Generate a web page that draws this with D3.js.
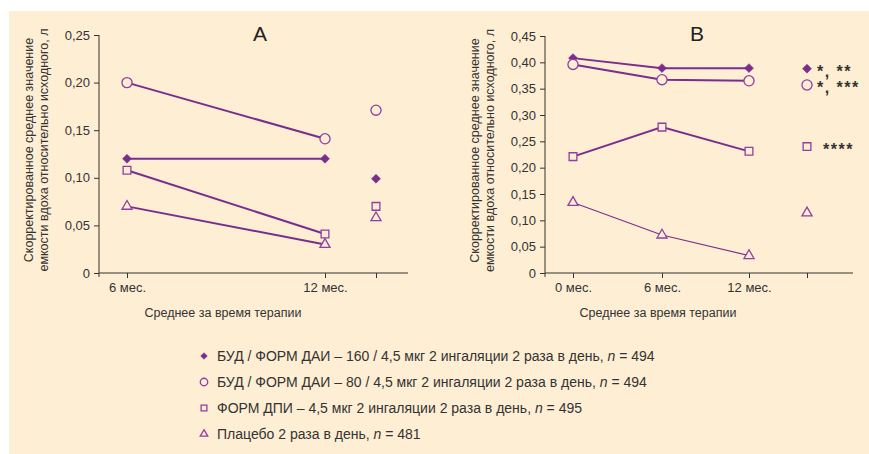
<!DOCTYPE html>
<html>
<head>
<meta charset="utf-8">
<script src="https://cdn.jsdelivr.net/npm/d3@7"></script>
<style>
  body { margin: 0; background: #fff; }
  svg { display: block; font-family: "Liberation Sans", Arial, sans-serif; }
  .axis path, .axis line { stroke: #333; }
  .axis text { fill: #333; font-size: 13px; }
</style>
</head>
<body>
<div id="chart"></div>
<script>
// Data
var groups = ["bud160", "bud80", "form", "plac"];
var legendLabels = [
  "БУД / ФОРМ ДАИ – 160 / 4,5 мкг 2 ингаляции 2 раза в день, ",
  "БУД / ФОРМ ДАИ – 80 / 4,5 мкг 2 ингаляции 2 раза в день, ",
  "ФОРМ ДПИ – 4,5 мкг 2 ингаляции 2 раза в день, ",
  "Плацебо 2 раза в день, "
];
var legendN = ["494", "494", "495", "481"];

// panel A
var timesA = ["6 мес.", "12 мес."];
var valuesA = {
  bud160: [0.12, 0.12],
  bud80: [0.20, 0.141],
  form: [0.108, 0.041],
  plac: [0.070, 0.030]
};
var meanA = { bud160: 0.099, bud80: 0.171, form: 0.070, plac: 0.058 };
var ticksA = [0, 0.05, 0.10, 0.15, 0.20, 0.25];

// panel B
var timesB = ["0 мес.", "6 мес.", "12 мес."];
var valuesB = {
  bud160: [0.408, 0.389, 0.389],
  bud80: [0.396, 0.367, 0.365],
  form: [0.221, 0.277, 0.231],
  plac: [0.134, 0.072, 0.033]
};
var meanB = { bud160: 0.388, bud80: 0.357, form: 0.240, plac: 0.114 };
var notesB = { bud160: "*, **", bud80: "*, ***", form: " ****", plac: "" };
var ticksB = [0, 0.05, 0.10, 0.15, 0.20, 0.25, 0.30, 0.35, 0.40, 0.45];

var yTitle = ["Скорректированное среднее значение", "емкости вдоха относительно исходного, л"];
var xTitle = "Среднее за время терапии";

//Styles
var bg = "#feeed4";
var purple = "#7a2d8c";
var markPurple = "#8e3f9f";
var textCol = "#333";
var comma = function(d) { return d === 0 ? "0" : d3.format(".2f")(d).replace(".", ","); };

var symbols = {
  bud160: { type: d3.symbolSquare, size: 40, fill: purple, rot: 45 },
  bud80: { type: d3.symbolCircle, size: 80, fill: bg, rot: 0 },
  form: { type: d3.symbolSquare, size: 60, fill: bg, rot: 0 },
  plac: { type: d3.symbolTriangle, size: 44, fill: bg, rot: 0 }
};

var svg = d3.select("#chart").append("svg")
    .attr("width", 869)
    .attr("height", 454);

svg.append("rect")
    .attr("x", 9).attr("y", 11)
    .attr("width", 860).attr("height", 443)
    .attr("fill", bg);

function marker(g, key, x, y, scale) {
  var s = symbols[key];
  g.append("path")
      .attr("d", d3.symbol().type(s.type).size(s.size * (scale || 1)))
      .attr("transform", "translate(" + x + "," + y + ") rotate(" + s.rot + ")")
      .attr("fill", s.fill)
      .attr("stroke", key === "bud160" ? purple : markPurple)
      .attr("stroke-width", key === "bud160" ? 0.5 : 1.3);
}

/**
  * Draws one panel
**/
function panel(opts) {
  var g = svg.append("g").attr("transform", "translate(" + opts.left + "," + opts.top + ")");
  var w = opts.width, h = opts.height;

  var y = d3.scaleLinear().domain([0, opts.ticks[opts.ticks.length - 1]]).range([h, 0]);
  var cats = opts.times.concat(["mean"]);
  var x = d3.scaleOrdinal().domain(cats).range(opts.xpos);

  //y axis
  var yAxis = g.append("g").attr("class", "axis")
      .call(d3.axisLeft(y).tickValues(opts.ticks).tickFormat(comma).tickSize(5).tickSizeOuter(0));
  yAxis.select(".domain").attr("d", "M0,0V" + (h + 4));
  yAxis.selectAll("text").attr("x", -9);

  //x axis
  var xAxis = g.append("g").attr("class", "axis")
      .attr("transform", "translate(0," + h + ")")
      .call(d3.axisBottom(x).tickSizeOuter(0).tickSize(5).tickFormat(function(d) { return d === "mean" ? "" : d; }));
  xAxis.select(".domain").attr("d", "M0,0H" + w);
  xAxis.selectAll("text").attr("y", 10).style("font-size", "13px");

  //title letter
  g.append("text")
      .attr("x", opts.letterX).attr("y", opts.letterY)
      .attr("text-anchor", "middle")
      .attr("fill", "#222")
      .style("font-size", "21px")
      .text(opts.letter);

  //axis titles
  yTitle.forEach(function(t, i) {
    g.append("text")
        .attr("transform", "translate(" + (opts.yTitleX + i * 15) + "," + (h / 2 - 4) + ") rotate(-90)")
        .attr("text-anchor", "middle")
        .attr("fill", textCol)
        .style("font-size", "12.5px")
        .text(t);
  });
  g.append("text")
      .attr("x", opts.xTitleX).attr("y", h + 44)
      .attr("text-anchor", "middle")
      .attr("fill", textCol)
      .style("font-size", "12.5px")
      .text(xTitle);

  var line = d3.line()
      .x(function(d, i) { return x(opts.times[i]); })
      .y(function(d) { return y(d); });

  groups.forEach(function(k) {
    g.append("path")
        .datum(opts.values[k])
        .attr("d", line)
        .attr("fill", "none")
        .attr("stroke", purple)
        .attr("stroke-width", (opts.thinPlac && k === "plac") ? 1.1 : 2);
  });
  groups.forEach(function(k) {
    opts.values[k].forEach(function(v, i) {
      marker(g, k, x(opts.times[i]), y(v));
    });
    marker(g, k, x("mean"), y(opts.mean[k]));
    if (opts.notes && opts.notes[k]) {
      g.append("text")
          .attr("x", x("mean") + 10).attr("y", y(opts.mean[k]) + 8)
          .attr("fill", textCol)
          .style("font-size", "16px")
          .style("font-weight", "bold")
          .style("letter-spacing", "1.5px")
          .style("white-space", "pre")
          .attr("xml:space", "preserve")
          .text(opts.notes[k]);
    }
  });
}

panel({
  left: 99, top: 35, width: 309, height: 238,
  times: timesA, values: valuesA, mean: meanA, ticks: ticksA,
  xpos: [28, 226, 277], letter: "A", letterX: 161, letterY: 6,
  yTitleX: -66, xTitleX: 124
});

panel({
  left: 545, top: 36, width: 308, height: 237,
  times: timesB, values: valuesB, mean: meanB, ticks: ticksB, notes: notesB,
  xpos: [28, 117, 204, 262], letter: "B", letterX: 152, letterY: 5,
  yTitleX: -66, xTitleX: 113, thinPlac: true
});

//legend
var leg = svg.append("g").attr("transform", "translate(204,356)");
groups.forEach(function(k, i) {
  var row = leg.append("g").attr("transform", "translate(0," + (i * 26) + ")");
  marker(row, k, 0, 0, 0.55);
  var t = row.append("text")
      .attr("x", 13).attr("y", 5)
      .attr("fill", textCol)
      .style("font-size", "14px");
  t.append("tspan").text(legendLabels[i]);
  t.append("tspan").style("font-style", "italic").text("n");
  t.append("tspan").text(" = " + legendN[i]);
});
</script>
</body>
</html>
